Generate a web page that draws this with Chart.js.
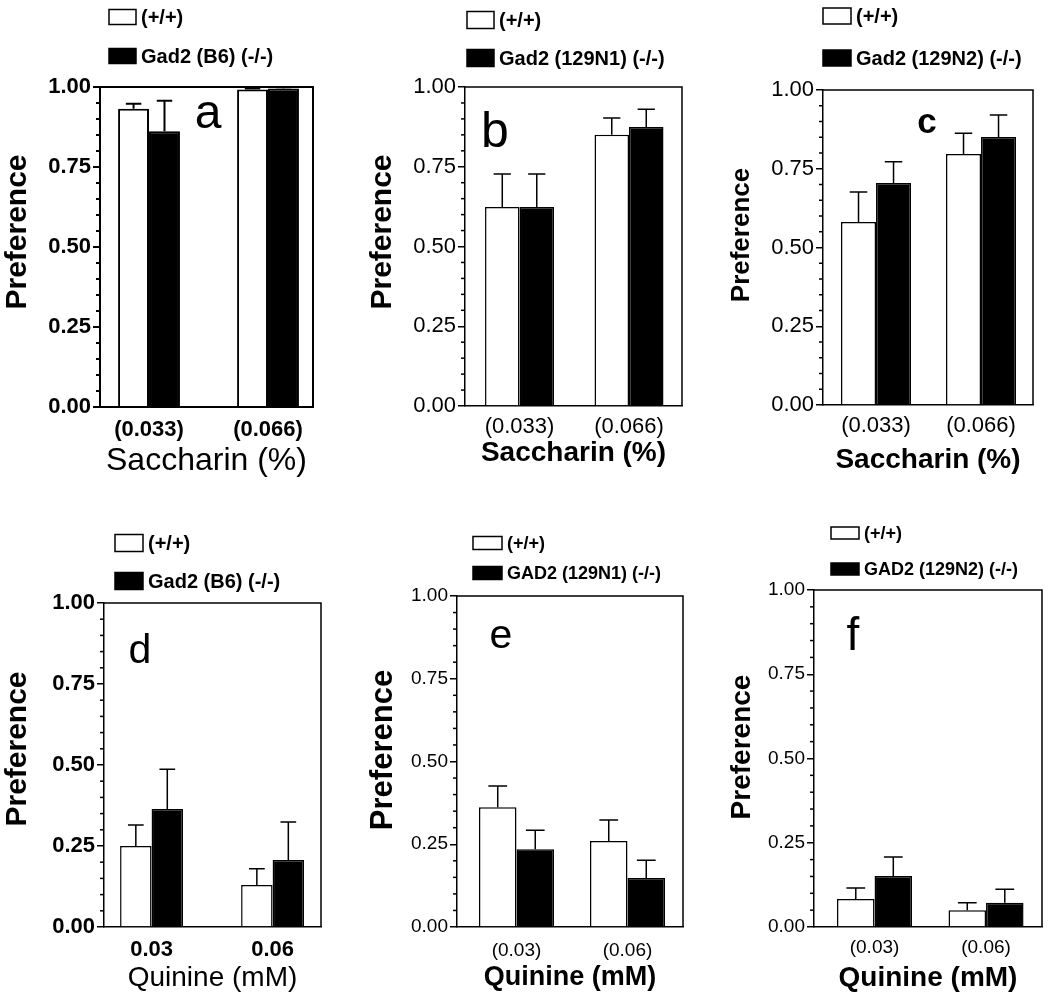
<!DOCTYPE html>
<html>
<head>
<meta charset="utf-8">
<script src="https://cdn.jsdelivr.net/npm/chart.js@4.4.1/dist/chart.umd.min.js"></script>
<style>
  body { margin: 0; background: #fff; width: 1050px; height: 1002px; position: relative; overflow: hidden; }
  canvas { position: absolute; }
</style>
</head>
<body>
<script>
// --- data ---
const saccharinLabels = ["(0.033)", "(0.066)"];
const quinineBoldLabels = ["0.03", "0.06"];
const quinineLabels = ["(0.03)", "(0.06)"];
const xPositions = [0, 1];
const minorStep = 0.05;

// mean preference and SEM, wild type (+/+) and knockout (-/-)
const aWt = [0.932, 0.992], aWtErr = [0.016, 0.003];
const aKo = [0.862, 0.995], aKoErr = [0.095, 0.004];
const bWt = [0.624, 0.850], bWtErr = [0.103, 0.053];
const bKo = [0.624, 0.875], bKoErr = [0.103, 0.055];
const cWt = [0.581, 0.797], cWtErr = [0.095, 0.066];
const cKo = [0.705, 0.851], cKoErr = [0.067, 0.070];
const dWt = [0.250, 0.130], dWtErr = [0.065, 0.050];
const dKo = [0.364, 0.207], dKoErr = [0.123, 0.117];
const eWt = [0.362, 0.260], eWtErr = [0.064, 0.063];
const eKo = [0.235, 0.148], eKoErr = [0.057, 0.054];
const fWt = [0.083, 0.050], fWtErr = [0.033, 0.022];
const fKo = [0.151, 0.072], fKoErr = [0.057, 0.040];

const FONT = "'Liberation Sans', Arial, sans-serif";

const panels = [
  { id: "a", canvas: [0, 0, 350, 490], area: [100, 87, 313, 407], xMin: -0.412, xMax: 1.378, cat: 0.52,
    labels: saccharinLabels, wt: aWt, wtErr: aWtErr, ko: aKo, koErr: aKoErr, koLabel: "Gad2 (B6) (-/-)",
    yTick: [22, "bold"], xTick: [22, "bold"], xTickPad: 10, yTitle: [30, "bold", 18, 232],
    xTitle: ["Saccharin (%)", 32, "normal"], xTitleY: 461, letter: ["a", 48, "normal", 208, 128],
    legend: [109, 17, 56, 27, 15, 20], lw: 2 },
  { id: "b", canvas: [350, 0, 350, 490], area: [465, 87, 682, 406], xMin: -0.498, xMax: 1.484, cat: 0.63,
    labels: saccharinLabels, wt: bWt, wtErr: bWtErr, ko: bKo, koErr: bKoErr, koLabel: "Gad2 (129N1) (-/-)",
    yTick: [22, "normal"], xTick: [22, "normal"], xTickPad: 8, yTitle: [30, "bold", 383, 232],
    xTitle: ["Saccharin (%)", 28, "bold"], xTitleY: 453, letter: ["b", 50, "normal", 495, 147],
    legend: [467, 20, 58, 27, 17, 20], lw: 1.5 },
  { id: "c", canvas: [700, 0, 350, 490], area: [823, 90, 1033, 405], xMin: -0.505, xMax: 1.495, cat: 0.667,
    labels: saccharinLabels, wt: cWt, wtErr: cWtErr, ko: cKo, koErr: cKoErr, koLabel: "Gad2 (129N2) (-/-)",
    yTick: [22, "normal"], xTick: [22, "normal"], xTickPad: 8, yTitle: [26, "bold", 742, 235],
    xTitle: ["Saccharin (%)", 28, "bold"], xTitleY: 460, letter: ["c", 35, "bold", 927, 133],
    legend: [823, 16, 58, 28, 16, 20], lw: 1.5 },
  { id: "d", canvas: [0, 500, 350, 502], area: [104, 603, 321, 927], xMin: -0.393, xMax: 1.40, cat: 0.52,
    labels: quinineBoldLabels, wt: dWt, wtErr: dWtErr, ko: dKo, koErr: dKoErr, koLabel: "Gad2 (B6) (-/-)",
    yTick: [22, "bold"], xTick: [22, "bold"], xTickPad: 10, yTitle: [30, "bold", 18, 749],
    xTitle: ["Quinine (mM)", 28, "normal"], xTitleY: 978, letter: ["d", 41, "normal", 140, 663],
    legend: [115, 543, 581, 28, 17, 20], lw: 1.5 },
  { id: "e", canvas: [350, 500, 350, 502], area: [457, 596, 683, 927], xMin: -0.536, xMax: 1.50, cat: 0.676,
    labels: quinineLabels, wt: eWt, wtErr: eWtErr, ko: eKo, koErr: eKoErr, koLabel: "GAD2 (129N1) (-/-)",
    yTick: [19, "normal"], xTick: [19, "normal"], xTickPad: 12, yTitle: [31, "bold", 383, 750],
    xTitle: ["Quinine (mM)", 27, "bold"], xTitleY: 978, letter: ["e", 41, "normal", 501, 648],
    legend: [473, 543, 573, 29, 13, 18], lw: 1.5 },
  { id: "f", canvas: [700, 500, 350, 502], area: [814, 590, 1042, 927], xMin: -0.543, xMax: 1.502, cat: 0.673,
    labels: quinineLabels, wt: fWt, wtErr: fWtErr, ko: fKo, koErr: fKoErr, koLabel: "GAD2 (129N2) (-/-)",
    yTick: [19, "normal"], xTick: [19, "normal"], xTickPad: 9, yTitle: [28, "bold", 742, 747],
    xTitle: ["Quinine (mM)", 28, "bold"], xTitleY: 978, letter: ["f", 46, "normal", 853, 650],
    legend: [831, 533, 569, 28, 12, 18], lw: 1.5 },
];

// error bars, box, minor ticks, y title, panel letter and legend
const extras = {
  id: "extras",
  afterDatasetsDraw(chart) {
    const ctx = chart.ctx;
    const y = chart.scales.y;
    const p = chart.options.plugins.extras.panel;
    ctx.save();
    ctx.strokeStyle = "#000";
    ctx.lineWidth = p.lw;
    chart.data.datasets.forEach((ds, i) => {
      chart.getDatasetMeta(i).data.forEach((bar, j) => {
        const top = y.getPixelForValue(ds.data[j].y + ds.errors[j]);
        const cap = bar.width * 0.5;
        ctx.beginPath();
        ctx.moveTo(bar.x, bar.y);
        ctx.lineTo(bar.x, top);
        ctx.moveTo(bar.x - cap / 2, top);
        ctx.lineTo(bar.x + cap / 2, top);
        ctx.stroke();
      });
    });
    ctx.restore();
  },
  afterDraw(chart) {
    const ctx = chart.ctx;
    const p = chart.options.plugins.extras.panel;
    const { left, top, right, bottom } = chart.chartArea;
    const y = chart.scales.y;
    const ox = p.canvas[0], oy = p.canvas[1];
    ctx.save();
    ctx.strokeStyle = "#000";
    ctx.lineWidth = p.lw;
    ctx.beginPath();
    ctx.moveTo(left, top);
    ctx.lineTo(right, top);
    ctx.lineTo(right, bottom);
    ctx.stroke();

    // minor ticks
    for (let k = 1; k * minorStep < 1; k++) {
      if (k % 5 === 0) continue;
      const py = y.getPixelForValue(k * minorStep);
      ctx.beginPath();
      ctx.moveTo(left - 4, py);
      ctx.lineTo(left, py);
      ctx.stroke();
    }

    // y title (sits a little above the axis middle in the original)
    const [ts, tw, tx, ty] = p.yTitle;
    ctx.fillStyle = "#000";
    ctx.font = `${tw} ${ts}px ${FONT}`;
    ctx.textAlign = "center";
    ctx.textBaseline = "middle";
    ctx.save();
    ctx.translate(tx - ox, ty - oy);
    ctx.rotate(-Math.PI / 2);
    ctx.fillText("Preference", 0, 0);
    ctx.restore();

    // panel letter
    const [ch, size, weight, lx, ly] = p.letter;
    ctx.font = `${weight} ${size}px ${FONT}`;
    ctx.textAlign = "center";
    ctx.textBaseline = "alphabetic";
    ctx.fillText(ch, lx - ox, ly - oy);

    // legend
    const [gx, y1, y2, bw, bh, fs] = p.legend;
    ctx.font = `bold ${fs}px ${FONT}`;
    ctx.textAlign = "left";
    ctx.textBaseline = "middle";
    [y1, y2].forEach((cy, i) => {
      const ds = chart.data.datasets[i];
      const bx = gx - ox, by = cy - oy - bh / 2;
      ctx.fillStyle = ds.backgroundColor;
      ctx.fillRect(bx, by, bw, bh);
      ctx.lineWidth = 1.5;
      ctx.strokeRect(bx, by, bw, bh);
      ctx.fillStyle = "#000";
      ctx.fillText(ds.label, bx + bw + 5, cy - oy + 1);
    });
    ctx.restore();
  },
};

panels.forEach((p) => {
  const [cx, cy, cw, ch] = p.canvas;
  const [al, at, ar, ab] = p.area;
  const canvas = document.createElement("canvas");
  canvas.style.left = cx + "px";
  canvas.style.top = cy + "px";
  canvas.style.width = cw + "px";
  canvas.style.height = ch + "px";
  canvas.width = cw;
  canvas.height = ch;
  document.body.appendChild(canvas);

  const xAxisHeight = cy + ch - ab;
  const xTitleLine = p.xTitle[1] * 1.2;

  new Chart(canvas.getContext("2d"), {
    type: "bar",
    data: {
      datasets: [
        {
          label: "(+/+)",
          data: xPositions.map((x, i) => ({ x: x, y: p.wt[i] })),
          errors: p.wtErr,
          backgroundColor: "#ffffff",
          borderColor: "#000000",
          borderWidth: p.lw,
        },
        {
          label: p.koLabel,
          data: xPositions.map((x, i) => ({ x: x, y: p.ko[i] })),
          errors: p.koErr,
          backgroundColor: "#000000",
          borderColor: "#000000",
          borderWidth: p.lw,
        },
      ],
    },
    options: {
      responsive: false,
      animation: false,
      devicePixelRatio: 1,
      categoryPercentage: p.cat,
      barPercentage: 1,
      layout: { padding: { left: 0, top: at - cy, right: cx + cw - ar, bottom: 0 } },
      scales: {
        x: {
          type: "linear",
          min: p.xMin,
          max: p.xMax,
          offset: false,
          afterBuildTicks: (s) => { s.ticks = xPositions.map((v) => ({ value: v })); },
          afterFit: (s) => { s.height = xAxisHeight; },
          grid: { display: false, drawTicks: false, offset: false },
          border: { display: true, color: "#000", width: p.lw },
          ticks: {
            autoSkip: false,
            maxRotation: 0,
            padding: p.xTickPad,
            color: "#000",
            font: { family: FONT, size: p.xTick[0], weight: p.xTick[1] },
            callback: (v, i) => p.labels[i],
          },
          title: {
            display: true,
            text: p.xTitle[0],
            color: "#000",
            font: { family: FONT, size: p.xTitle[1], weight: p.xTitle[2] },
            padding: { top: 0, bottom: cy + ch - p.xTitleY - xTitleLine / 2 },
          },
        },
        y: {
          min: 0,
          max: 1,
          afterFit: (s) => { s.width = al - cx; },
          grid: { display: true, drawOnChartArea: false, drawTicks: true, tickLength: 7, color: "#000", lineWidth: p.lw },
          border: { display: true, color: "#000", width: p.lw },
          ticks: {
            stepSize: 0.25,
            padding: 2,
            color: "#000",
            font: { family: FONT, size: p.yTick[0], weight: p.yTick[1] },
            callback: (v) => v.toFixed(2),
          },
          title: { display: false },
        },
      },
      plugins: {
        legend: { display: false },
        tooltip: { enabled: false },
        extras: { panel: p },
      },
    },
    plugins: [extras],
  });
});
</script>
</body>
</html>
